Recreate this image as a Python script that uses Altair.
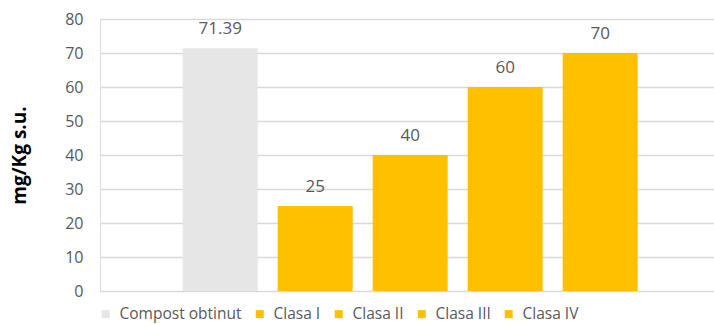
import altair as alt
import pandas as pd

series = ["Compost obtinut", "Clasa I", "Clasa II", "Clasa III", "Clasa IV"]
values = [71.39, 25, 40, 60, 70]
labels = ["71.39", "25", "40", "60", "70"]
colors = ["#e6e6e6", "#ffc000", "#ffc000", "#ffc000", "#ffc000"]
y_ticks = [0, 10, 20, 30, 40, 50, 60, 70, 80]

df = pd.DataFrame({"serie": series, "val": values, "lab": labels})

FONT = "Open Sans"
TXT = "#595959"

x = alt.X("serie:N", sort=series, axis=None,
          scale=alt.Scale(paddingInner=0.2105, paddingOuter=0.837, align=0.52))
y = alt.Y("val:Q",
          scale=alt.Scale(domain=[0, 80], nice=False),
          axis=alt.Axis(values=y_ticks, tickCount=9, labelOverlap=False,
                        title="mg/Kg s.u.", grid=True,
                        gridColor="#d9d9d9", gridWidth=1.3, domain=False, ticks=False,
                        labelPadding=17, labelFontSize=16, labelColor=TXT, labelFont=FONT,
                        titleFont=FONT, titleFontSize=19, titleFontWeight="bold",
                        titleColor="#000000", titleAngle=270, titleX=-81, titleY=136,
                        titleAlign="center", titleBaseline="middle"))

bars = alt.Chart(df).mark_bar().encode(
    x=x, y=y,
    color=alt.Color("serie:N", sort=series,
                    scale=alt.Scale(domain=series, range=colors),
                    legend=alt.Legend(title=None, orient="none", direction="horizontal",
                                      legendX=-2, legendY=287, columns=5,
                                      symbolType="square", symbolSize=64,
                                      symbolStrokeWidth=0, labelFont=FONT,
                                      labelFontSize=15.5, labelColor=TXT,
                                      labelOffset=6, columnPadding=10))
)

text = alt.Chart(df).mark_text(baseline="alphabetic", dy=-14, font=FONT,
                               fontSize=17, color=TXT).encode(
    x=x, y=y, text="lab:N")

chart = (bars + text).properties(
    width=614, height=272,
    autosize=alt.AutoSizeParams(type="none"),
    padding={"left": 100, "top": 19, "right": 0, "bottom": 33},
).configure_view(stroke=None).configure(background="white")

chart.save("out.html", embed_options={"renderer": "svg", "actions": False})
